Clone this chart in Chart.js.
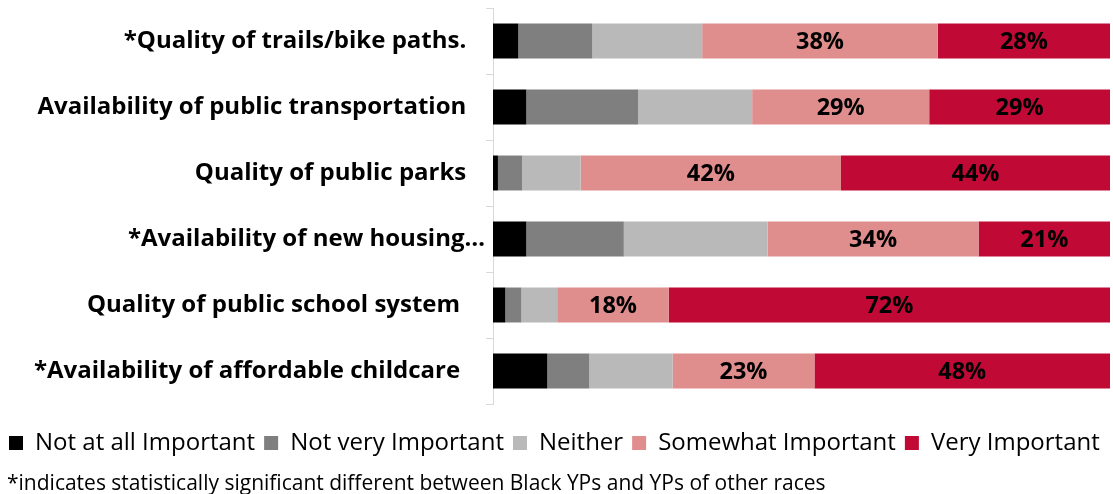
<!DOCTYPE html>
<html>
<head>
<meta charset="utf-8">
<script src="https://cdn.jsdelivr.net/npm/chart.js@4.4.1/dist/chart.umd.min.js"></script>
<style>
  html, body { margin: 0; padding: 0; background: #ffffff; }
  #chart { display: block; }
</style>
</head>
<body>
<canvas id="chart" width="1113" height="494"></canvas>
<script>
// Survey items (trailing spaces keep the labels' right edges as laid out)
const categories = [
  '*Quality of trails/bike paths.   ',
  'Availability of public transportation   ',
  'Quality of public parks   ',
  '*Availability of new housing\u2026',
  'Quality of public school system    ',
  '*Availability of affordable childcare    '
];

// Share of respondents per answer, in percent
const notAtAllImportant = [4.1, 5.4, 0.8, 5.4, 2.0, 8.8];
const notVeryImportant  = [12.0, 18.1, 3.9, 15.8, 2.6, 6.8];
const neither           = [17.8, 18.5, 9.5, 23.3, 5.8, 13.5];
const somewhatImportant = [38.2, 28.7, 42.2, 34.2, 18.1, 23.0];
const veryImportant     = [27.9, 29.3, 43.6, 21.3, 71.5, 47.9];

const seriesNames = ['Not at all Important', 'Not very Important', 'Neither', 'Somewhat Important', 'Very Important'];
const seriesColors = ['#000000', '#7f7f7f', '#b9b9b9', '#e08d8d', '#c00a35'];
const labelledSeries = [false, false, false, true, true];

const footnote = '*indicates statistically significant different between Black YPs and YPs of other races';

const FONT = "'Open Sans', 'Liberation Sans', sans-serif";

// Percent labels centred inside the labelled segments
const valueLabels = {
  id: 'valueLabels',
  afterDatasetsDraw(chart) {
    const ctx = chart.ctx;
    ctx.save();
    ctx.font = 'bold 23.5px ' + FONT;
    ctx.fillStyle = '#000000';
    ctx.textAlign = 'center';
    ctx.textBaseline = 'middle';
    chart.data.datasets.forEach((ds, i) => {
      if (!ds.showValues) return;
      chart.getDatasetMeta(i).data.forEach((bar, j) => {
        const p = bar.getProps(['x', 'y', 'base'], true);
        ctx.fillText(Math.round(ds.data[j]) + '%', (p.x + p.base) / 2, p.y + 1);
      });
    });
    ctx.restore();
  }
};

// Note line under the legend
const footnoteLine = {
  id: 'footnoteLine',
  afterDraw(chart) {
    const ctx = chart.ctx;
    ctx.save();
    ctx.font = '21px ' + FONT;
    ctx.fillStyle = '#000000';
    ctx.textAlign = 'left';
    ctx.textBaseline = 'middle';
    ctx.fillText(footnote, 7, chart.legend.bottom + 19);
    ctx.restore();
  }
};

const values = [notAtAllImportant, notVeryImportant, neither, somewhatImportant, veryImportant];

new Chart(document.getElementById('chart'), {
  type: 'bar',
  data: {
    labels: categories,
    datasets: values.map((v, i) => ({
      label: seriesNames[i],
      data: v,
      backgroundColor: seriesColors[i],
      borderColor: seriesColors[i],
      borderWidth: 0,
      barPercentage: 0.53,
      categoryPercentage: 1.0,
      showValues: labelledSeries[i]
    }))
  },
  options: {
    indexAxis: 'y',
    responsive: false,
    devicePixelRatio: 1,
    animation: false,
    layout: { padding: { top: 8, right: 3, bottom: 29, left: 0 } },
    scales: {
      x: {
        stacked: true,
        min: 0,
        max: 100,
        grid: { display: false },
        border: { display: false },
        ticks: { display: false },
        afterFit(scale) { scale.height = 18; }
      },
      y: {
        stacked: true,
        grid: { offset: true, drawOnChartArea: false, tickLength: 7, color: '#d9d9d9', lineWidth: 1 },
        border: { color: '#d9d9d9', width: 1 },
        ticks: { padding: 1, color: '#000000', font: { family: FONT, weight: 'bold', size: 24 } },
        afterFit(scale) {
          scale.width = 493;
          scale.paddingTop = 0;
          scale.paddingBottom = 0;
        }
      }
    },
    plugins: {
      legend: {
        position: 'bottom',
        align: 'start',
        labels: {
          boxWidth: 14,
          boxHeight: 14,
          padding: 9,
          color: '#000000',
          font: { family: FONT, size: 24 }
        }
      },
      tooltip: { enabled: false },
      title: { display: false }
    }
  },
  plugins: [valueLabels, footnoteLine]
});
</script>
</body>
</html>
